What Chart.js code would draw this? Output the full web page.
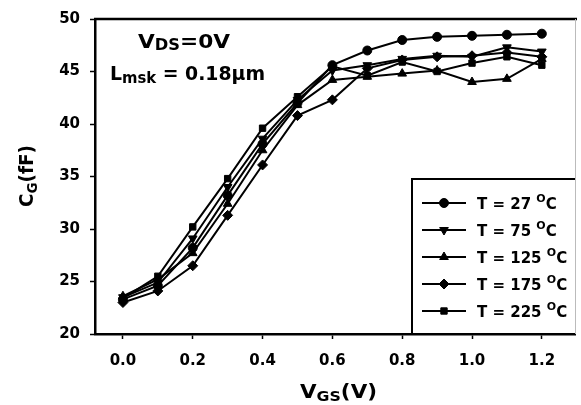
<!DOCTYPE html>
<html><head><meta charset="utf-8">
<script src="https://cdn.jsdelivr.net/npm/chart.js@4.4.1/dist/chart.umd.min.js"></script>
<style>html,body{margin:0;padding:0;background:#fff}canvas{display:block}</style>
</head><body>
<canvas id="c" width="581" height="405"></canvas>
<script>
const vgs = [0.0,0.1,0.2,0.3,0.4,0.5,0.6,0.7,0.8,0.9,1.0,1.1,1.2];
const cgT27  = [23.3,24.6,28.2,33.2,38.1,42.0,45.6,47.0,48.0,48.3,48.4,48.5,48.6];
const cgT75  = [23.5,24.9,29.1,34.0,38.6,42.3,45.1,45.6,46.2,46.5,46.4,47.3,46.9];
const cgT125 = [23.6,25.2,27.7,32.4,37.5,41.8,44.2,44.5,44.8,45.1,44.0,44.3,46.2];
const cgT175 = [23.0,24.1,26.5,31.3,36.1,40.8,42.3,45.3,46.1,46.4,46.5,46.8,46.4];
const cgT225 = [23.4,25.5,30.2,34.8,39.6,42.6,45.5,44.6,45.9,45.0,45.8,46.4,45.6];
const tempLabels = ['27','75','125','175','225'];
const xTicks = [0.0,0.2,0.4,0.6,0.8,1.0,1.2];
const yTicks = [20,25,30,35,40,45,50];

const FF = '"DejaVu Sans", "Liberation Sans", sans-serif';
const seriesValues = [cgT27, cgT75, cgT125, cgT175, cgT225];
const styles = [
  {pointStyle:'circle', rotation:0, radius:4.5},
  {pointStyle:'triangle', rotation:180, radius:5},
  {pointStyle:'triangle', rotation:0, radius:5},
  {pointStyle:'rectRot', rotation:0, radius:5},
  {pointStyle:'rect', rotation:0, radius:4.5}
];

const datasets = seriesValues.map((vals, i) => ({
  label: 'T = ' + tempLabels[i] + ' °C',
  data: vgs.map((x, j) => ({x: x, y: vals[j]})),
  borderColor: '#000',
  backgroundColor: '#000',
  borderWidth: 2,
  pointStyle: styles[i].pointStyle,
  pointRotation: styles[i].rotation,
  pointRadius: styles[i].radius,
  pointBorderWidth: 1,
  pointBackgroundColor: '#000',
  pointBorderColor: '#000',
  tension: 0
}));

function drawRuns(ctx, x, y, runs, fitWidth) {
  let total = 0;
  runs.forEach(r => { ctx.font = 'bold ' + r.size + 'px ' + FF; total += ctx.measureText(r.t).width; });
  const sx = fitWidth ? fitWidth / total : 1;
  ctx.save();
  ctx.translate(x, y);
  ctx.scale(sx, 1);
  let cx = 0;
  runs.forEach(r => {
    ctx.font = 'bold ' + r.size + 'px ' + FF;
    ctx.fillText(r.t, cx, r.dy || 0);
    cx += ctx.measureText(r.t).width;
  });
  ctx.restore();
  return x + cx * sx;
}

function marker(ctx, st, x, y) {
  if (Chart.helpers && Chart.helpers.drawPoint) {
    ctx.fillStyle = '#000'; ctx.strokeStyle = '#000'; ctx.lineWidth = 1;
    Chart.helpers.drawPoint(ctx, {pointStyle: st.pointStyle, rotation: st.rotation, radius: st.radius, borderWidth: 1}, x, y);
  } else {
    ctx.beginPath(); ctx.arc(x, y, st.radius, 0, Math.PI*2); ctx.fill();
  }
}

const decor = {
  id: 'decor',
  afterDraw(chart) {
    const ctx = chart.ctx, a = chart.chartArea;
    ctx.save();
    ctx.strokeStyle = '#000'; ctx.lineWidth = 2.5;
    ctx.beginPath(); ctx.moveTo(a.left - 1, a.top); ctx.lineTo(a.right + 2, a.top); ctx.stroke();
    ctx.strokeStyle = '#bbb'; ctx.lineWidth = 1;
    ctx.beginPath(); ctx.moveTo(a.right + 0.5, a.top); ctx.lineTo(a.right + 0.5, a.bottom); ctx.stroke();

    ctx.fillStyle = '#000';
    ctx.textBaseline = 'alphabetic';
    ctx.textAlign = 'left';
    drawRuns(ctx, 138, 48, [{t:'V', size:20}, {t:'DS', size:15, dy:2}, {t:'=0V', size:20}], 92);
    drawRuns(ctx, 110, 80, [{t:'L', size:19}, {t:'msk', size:15, dy:3}, {t:' = 0.18\u00b5m', size:19}], 155);
    drawRuns(ctx, 300, 398, [{t:'V', size:19}, {t:'GS', size:14, dy:3}, {t:'(V)', size:19}], 77);
    ctx.save();
    ctx.translate(33, 207);
    ctx.rotate(-Math.PI / 2);
    drawRuns(ctx, 0, 0, [{t:'C', size:19}, {t:'G', size:14, dy:4}, {t:'(fF)', size:19}], 62);
    ctx.restore();

    const lx = 412, ly = 179;
    ctx.strokeStyle = '#000'; ctx.lineWidth = 2;
    ctx.beginPath(); ctx.moveTo(lx, a.bottom); ctx.lineTo(lx, ly); ctx.lineTo(a.right, ly); ctx.stroke();
    const rows = [203, 230, 257, 284, 311];
    datasets.forEach((ds, i) => {
      const y = rows[i];
      ctx.strokeStyle = '#000'; ctx.lineWidth = 2;
      ctx.beginPath(); ctx.moveTo(422, y); ctx.lineTo(466, y); ctx.stroke();
      marker(ctx, styles[i], 444, y);
      ctx.fillStyle = '#000';
      drawRuns(ctx, 477, y + 6, [{t:'T = ' + tempLabels[i] + ' ', size:15}, {t:'O', size:11, dy:-7}, {t:'C', size:15}]);
    });
    ctx.restore();
  }
};

new Chart(document.getElementById('c'), {
  type: 'line',
  data: { datasets: datasets },
  options: {
    responsive: false,
    animation: false,
    devicePixelRatio: 1,
    layout: { padding: { left: 0, top: 15, right: 2, bottom: 0 } },
    plugins: { legend: { display: false }, tooltip: { enabled: false } },
    scales: {
      x: {
        type: 'linear', min: -0.08, max: 1.295,
        afterFit: s => { s.height = 71; },
        afterBuildTicks: s => { s.ticks = xTicks.map(v => ({value: v})); },
        ticks: { color: '#000', padding: 13, font: { family: FF, size: 15, weight: 'bold' }, maxRotation: 0, callback: v => Number(v).toFixed(1) },
        grid: { drawOnChartArea: false, drawTicks: true, tickLength: 5, tickColor: '#000', tickWidth: 1.5 },
        border: { display: true, color: '#000', width: 2.5 }
      },
      y: {
        type: 'linear', min: 20, max: 50,
        afterFit: s => { s.width = 95; },
        afterBuildTicks: s => { s.ticks = yTicks.map(v => ({value: v})); },
        ticks: { color: '#000', padding: 10, font: { family: FF, size: 15, weight: 'bold' }, callback: v => String(v) },
        grid: { drawOnChartArea: false, drawTicks: true, tickLength: 5, tickColor: '#000', tickWidth: 1.5 },
        border: { display: true, color: '#000', width: 2.5 }
      }
    }
  },
  plugins: [decor]
});
</script>
</body></html>
